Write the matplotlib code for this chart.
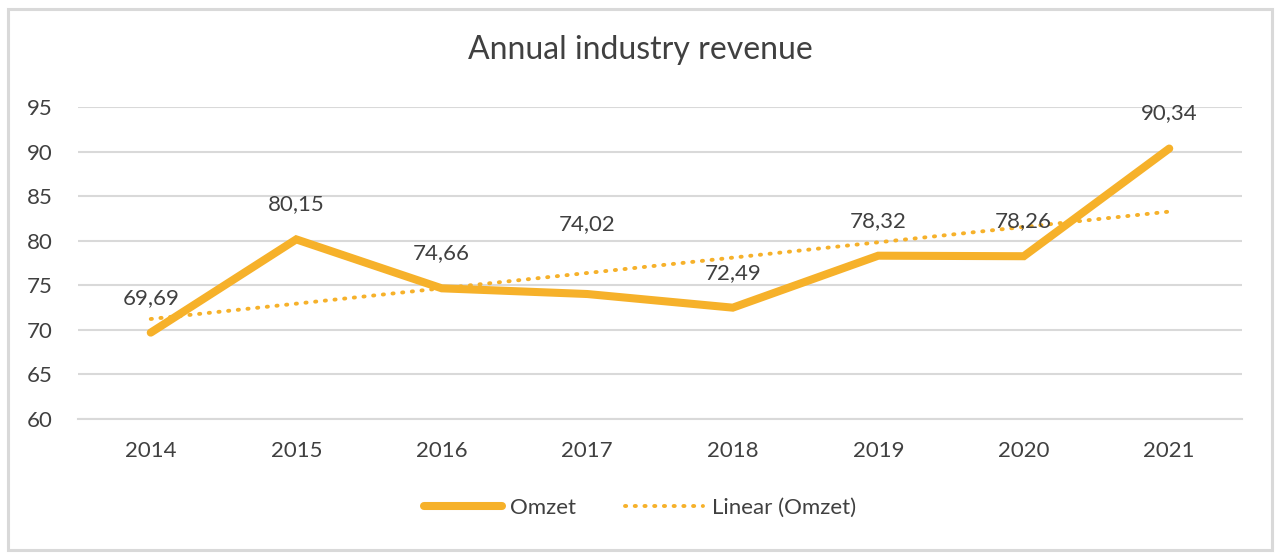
import numpy as np
import matplotlib
matplotlib.use("Agg")
import matplotlib.pyplot as plt
from matplotlib.patches import Rectangle

# Data
years = ["2014", "2015", "2016", "2017", "2018", "2019", "2020", "2021"]
omzet = [69.69, 80.15, 74.66, 74.02, 72.49, 78.32, 78.26, 90.34]
yticks = [60, 65, 70, 75, 80, 85, 90, 95]

gold = "#F6B12A"
text_col = "#404040"
grid_col = "#D9D9D9"

plt.rcParams["font.family"] = ["Lato", "DejaVu Sans"]

fig = plt.figure(figsize=(12.8, 5.59), dpi=100)
# chart border
fig.patches.append(Rectangle((8 / 1280, 9 / 559), 1264 / 1280, 541 / 559,
                             transform=fig.transFigure, fill=False,
                             edgecolor=grid_col, linewidth=2.2))

ax = fig.add_axes([78 / 1280, 1 - 419 / 559, 1164 / 1280, 312 / 559])
x = np.arange(len(years))

# linear trendline, like Excel's
slope, icpt = np.polyfit(x, omzet, 1)
trend = slope * x + icpt

ax.plot(x, omzet, color=gold, lw=5.8, solid_capstyle="round",
        solid_joinstyle="miter", label="Omzet", zorder=3)
ax.plot(x, trend, color=gold, lw=2.8, linestyle=(0, (0.3, 2.2)),
        dash_capstyle="round", label="Linear (Omzet)", zorder=2)

# data labels above points (2017 label was nudged higher in the original)
for i, v in enumerate(omzet):
    off = 70 if years[i] == "2017" else 35
    ax.annotate(f"{v:.2f}".replace(".", ","), (x[i], v),
                xytext=(0, off), textcoords="offset pixels",
                ha="center", va="center", fontsize=16, color=text_col)

ax.set_xlim(-0.5, len(years) - 0.5)
ax.set_ylim(60, 95)
ax.set_yticks(yticks)
ax.set_xticks(x)
ax.set_xticklabels(years)
ax.grid(axis="y", color=grid_col, lw=1.5)
ax.set_axisbelow(True)
for s in ["top", "right", "left"]:
    ax.spines[s].set_visible(False)
ax.spines["bottom"].set_color(grid_col)
ax.spines["bottom"].set_linewidth(1.5)
ax.tick_params(axis="both", length=0, labelsize=16, labelcolor=text_col)
ax.tick_params(axis="y", pad=18)
ax.tick_params(axis="x", pad=16)

fig.text(0.5, 1 - 50 / 559, "Annual industry revenue", ha="center",
         va="center", fontsize=23, color=text_col)

fig.legend(loc="center", bbox_to_anchor=(0.5, 1 - 508 / 559), ncol=2,
           frameon=False, fontsize=16, labelcolor=text_col,
           handlelength=3.5, columnspacing=2.2, handletextpad=0.4)

fig.savefig("out.png", dpi=100)
